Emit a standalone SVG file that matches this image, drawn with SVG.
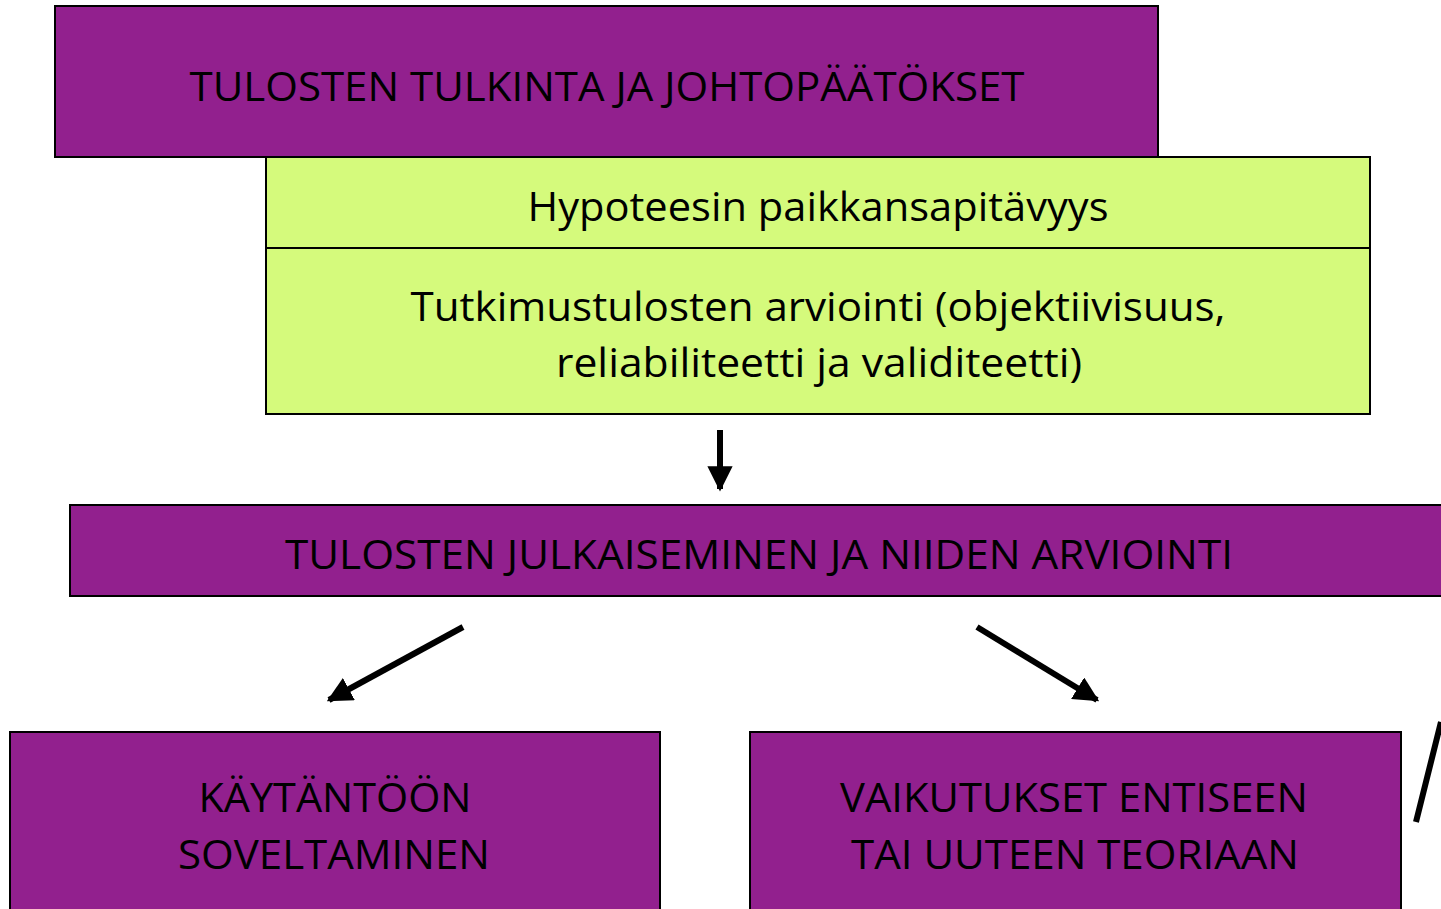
<svg xmlns="http://www.w3.org/2000/svg" width="1441" height="909" viewBox="0 0 1441 909">
<style>
.p{fill:#92208E;stroke:#000;stroke-width:2}
.g{fill:#D5FA7C;stroke:#000;stroke-width:2}
.t{font-family:"Open Sans","Liberation Sans",sans-serif;font-size:40px;fill:#000;text-anchor:middle}
.c{stroke:#000;stroke-width:6;fill:none}
</style>
<defs>
<marker id="ah" viewBox="0 0 10 10" refX="9" refY="5" markerWidth="4.2" markerHeight="4.2" markerUnits="strokeWidth" orient="auto">
<path d="M0,0 L10,5 L0,10 Z" fill="#000"/>
</marker>
</defs>
<rect width="1441" height="909" fill="#fff"/>
<g id="n1">
<rect class="p" x="55" y="6" width="1103" height="151"/>
<text class="t" x="607" y="101" textLength="835" lengthAdjust="spacingAndGlyphs">TULOSTEN TULKINTA JA JOHTOPÄÄTÖKSET</text>
</g>
<g id="n2">
<rect class="g" x="266" y="157" width="1104" height="257"/>
<line x1="266" y1="248" x2="1370" y2="248" stroke="#000" stroke-width="2"/>
<text class="t" x="818" y="221" textLength="581" lengthAdjust="spacingAndGlyphs">Hypoteesin paikkansapitävyys</text>
<text class="t" x="818" y="321" textLength="815" lengthAdjust="spacingAndGlyphs">Tutkimustulosten arviointi (objektiivisuus,</text>
<text class="t" x="819" y="377" textLength="526" lengthAdjust="spacingAndGlyphs">reliabiliteetti ja validiteetti)</text>
</g>
<g id="n3">
<rect class="p" x="70" y="505" width="1380" height="91"/>
<text class="t" x="759" y="569" textLength="948" lengthAdjust="spacingAndGlyphs">TULOSTEN JULKAISEMINEN JA NIIDEN ARVIOINTI</text>
</g>
<g id="n4">
<rect class="p" x="10" y="732" width="650" height="190"/>
<text class="t" x="335" y="812" textLength="273" lengthAdjust="spacingAndGlyphs">KÄYTÄNTÖÖN</text>
<text class="t" x="334" y="869" textLength="312" lengthAdjust="spacingAndGlyphs">SOVELTAMINEN</text>
</g>
<g id="n5">
<rect class="p" x="750" y="732" width="651" height="190"/>
<text class="t" x="1074" y="812" textLength="468" lengthAdjust="spacingAndGlyphs">VAIKUTUKSET ENTISEEN</text>
<text class="t" x="1075" y="869" textLength="448" lengthAdjust="spacingAndGlyphs">TAI UUTEEN TEORIAAN</text>
</g>
<g id="connectors">
<line class="c" x1="720" y1="430" x2="720" y2="489" marker-end="url(#ah)"/>
<line class="c" x1="463" y1="627" x2="329" y2="700" marker-end="url(#ah)"/>
<line class="c" x1="977" y1="627" x2="1097" y2="700" marker-end="url(#ah)"/>
<line class="c" x1="1441" y1="722" x2="1416" y2="822"/>
</g>
</svg>
